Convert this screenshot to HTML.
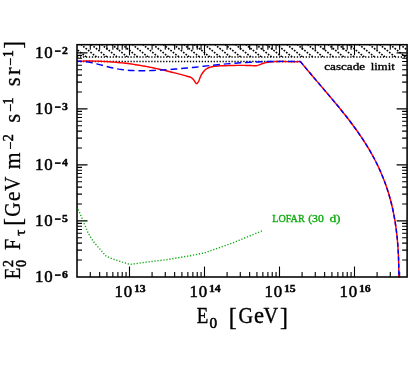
<!DOCTYPE html><html><head><meta charset="utf-8"><style>html,body{margin:0;padding:0;background:#fff;}body{width:416px;height:382px;overflow:hidden;position:relative;font-family:"Liberation Serif",serif;}</style></head><body><svg width="416" height="382" viewBox="0 0 416 382" style="will-change:transform;display:block;position:absolute;left:0;top:0">
<rect width="416" height="382" fill="#fff"/>
<defs><clipPath id="hc"><rect x="77.0" y="44.7" width="330.1" height="12.199999999999996"/></clipPath><clipPath id="pc"><rect x="77.0" y="44.7" width="330.1" height="233.3"/></clipPath></defs>
<path d="M-63.00 44.70L-47.75 56.90M-52.70 44.70L-37.45 56.90M-42.40 44.70L-27.15 56.90M-32.10 44.70L-16.85 56.90M-21.80 44.70L-6.55 56.90M-11.50 44.70L3.75 56.90M-1.20 44.70L14.05 56.90M9.10 44.70L24.35 56.90M19.40 44.70L34.65 56.90M29.70 44.70L44.95 56.90M40.00 44.70L55.25 56.90M50.30 44.70L65.55 56.90M60.60 44.70L75.85 56.90M70.90 44.70L86.15 56.90M81.20 44.70L96.45 56.90M91.50 44.70L106.75 56.90M101.80 44.70L117.05 56.90M112.10 44.70L127.35 56.90M122.40 44.70L137.65 56.90M132.70 44.70L147.95 56.90M143.00 44.70L158.25 56.90M153.30 44.70L168.55 56.90M163.60 44.70L178.85 56.90M173.90 44.70L189.15 56.90M184.20 44.70L199.45 56.90M194.50 44.70L209.75 56.90M204.80 44.70L220.05 56.90M215.10 44.70L230.35 56.90M225.40 44.70L240.65 56.90M235.70 44.70L250.95 56.90M246.00 44.70L261.25 56.90M256.30 44.70L271.55 56.90M266.60 44.70L281.85 56.90M276.90 44.70L292.15 56.90M287.20 44.70L302.45 56.90M297.50 44.70L312.75 56.90M307.80 44.70L323.05 56.90M318.10 44.70L333.35 56.90M328.40 44.70L343.65 56.90M338.70 44.70L353.95 56.90M349.00 44.70L364.25 56.90M359.30 44.70L374.55 56.90M369.60 44.70L384.85 56.90M379.90 44.70L395.15 56.90M390.20 44.70L405.45 56.90M400.50 44.70L415.75 56.90M410.80 44.70L426.05 56.90" clip-path="url(#hc)" stroke="#000" stroke-width="1.6" stroke-dasharray="1.7 1.4" stroke-dashoffset="0.6" fill="none"/>
<path d="M77.0 56.9H407.1" stroke="#000" stroke-width="1.5" stroke-dasharray="1.3 1.67" fill="none"/>
<path d="M77.0 61.4H300" stroke="#000" stroke-width="1.5" stroke-dasharray="1.3 1.67" fill="none"/>
<path d="M90.28 277.0v-5.0M90.28 44.7v5.0M99.65 277.0v-5.0M99.65 44.7v5.0M106.92 277.0v-5.0M106.92 44.7v5.0M112.86 277.0v-5.0M112.86 44.7v5.0M117.88 277.0v-5.0M117.88 44.7v5.0M122.23 277.0v-5.0M122.23 44.7v5.0M126.07 277.0v-5.0M126.07 44.7v5.0M129.50 277.0v-10.5M129.50 44.7v10.5M152.08 277.0v-5.0M152.08 44.7v5.0M165.28 277.0v-5.0M165.28 44.7v5.0M174.65 277.0v-5.0M174.65 44.7v5.0M181.92 277.0v-5.0M181.92 44.7v5.0M187.86 277.0v-5.0M187.86 44.7v5.0M192.88 277.0v-5.0M192.88 44.7v5.0M197.23 277.0v-5.0M197.23 44.7v5.0M201.07 277.0v-5.0M201.07 44.7v5.0M204.50 277.0v-10.5M204.50 44.7v10.5M227.08 277.0v-5.0M227.08 44.7v5.0M240.28 277.0v-5.0M240.28 44.7v5.0M249.65 277.0v-5.0M249.65 44.7v5.0M256.92 277.0v-5.0M256.92 44.7v5.0M262.86 277.0v-5.0M262.86 44.7v5.0M267.88 277.0v-5.0M267.88 44.7v5.0M272.23 277.0v-5.0M272.23 44.7v5.0M276.07 277.0v-5.0M276.07 44.7v5.0M279.50 277.0v-10.5M279.50 44.7v10.5M302.08 277.0v-5.0M302.08 44.7v5.0M315.28 277.0v-5.0M315.28 44.7v5.0M324.65 277.0v-5.0M324.65 44.7v5.0M331.92 277.0v-5.0M331.92 44.7v5.0M337.86 277.0v-5.0M337.86 44.7v5.0M342.88 277.0v-5.0M342.88 44.7v5.0M347.23 277.0v-5.0M347.23 44.7v5.0M351.07 277.0v-5.0M351.07 44.7v5.0M354.50 277.0v-10.5M354.50 44.7v10.5M377.08 277.0v-5.0M377.08 44.7v5.0M390.28 277.0v-5.0M390.28 44.7v5.0M399.65 277.0v-5.0M399.65 44.7v5.0M77.0 259.99h5.0M407.1 259.99h-5.0M77.0 250.13h5.0M407.1 250.13h-5.0M77.0 243.13h5.0M407.1 243.13h-5.0M77.0 237.71h5.0M407.1 237.71h-5.0M77.0 233.27h5.0M407.1 233.27h-5.0M77.0 229.52h5.0M407.1 229.52h-5.0M77.0 226.28h5.0M407.1 226.28h-5.0M77.0 223.41h5.0M407.1 223.41h-5.0M77.0 220.85h10.5M407.1 220.85h-10.5M77.0 203.99h5.0M407.1 203.99h-5.0M77.0 194.13h5.0M407.1 194.13h-5.0M77.0 187.13h5.0M407.1 187.13h-5.0M77.0 181.71h5.0M407.1 181.71h-5.0M77.0 177.27h5.0M407.1 177.27h-5.0M77.0 173.52h5.0M407.1 173.52h-5.0M77.0 170.28h5.0M407.1 170.28h-5.0M77.0 167.41h5.0M407.1 167.41h-5.0M77.0 164.85h10.5M407.1 164.85h-10.5M77.0 147.99h5.0M407.1 147.99h-5.0M77.0 138.13h5.0M407.1 138.13h-5.0M77.0 131.13h5.0M407.1 131.13h-5.0M77.0 125.71h5.0M407.1 125.71h-5.0M77.0 121.27h5.0M407.1 121.27h-5.0M77.0 117.52h5.0M407.1 117.52h-5.0M77.0 114.28h5.0M407.1 114.28h-5.0M77.0 111.41h5.0M407.1 111.41h-5.0M77.0 108.85h10.5M407.1 108.85h-10.5M77.0 91.99h5.0M407.1 91.99h-5.0M77.0 82.13h5.0M407.1 82.13h-5.0M77.0 75.13h5.0M407.1 75.13h-5.0M77.0 69.71h5.0M407.1 69.71h-5.0M77.0 65.27h5.0M407.1 65.27h-5.0M77.0 61.52h5.0M407.1 61.52h-5.0M77.0 58.28h5.0M407.1 58.28h-5.0M77.0 55.41h5.0M407.1 55.41h-5.0M77.0 52.85h10.5M407.1 52.85h-10.5" stroke="#000" stroke-width="1.1" fill="none"/>
<g clip-path="url(#pc)"><path d="M77.00 61.30L78.96 61.23L80.92 61.17L82.88 61.12L84.84 61.09L86.80 61.07L88.76 61.06L90.72 61.06L92.68 61.08L94.64 61.11L96.59 61.15L98.55 61.21L100.50 61.28L102.45 61.36L104.41 61.45L106.36 61.56L108.31 61.68L110.26 61.81L112.20 61.95L114.15 62.11L116.10 62.28L118.04 62.46L119.98 62.66L121.93 62.87L123.87 63.09L125.81 63.32L127.74 63.56L129.68 63.82L131.61 64.09L133.55 64.37L135.48 64.67L137.41 64.97L139.34 65.29L141.26 65.61L143.19 65.95L145.11 66.30L147.04 66.66L148.96 67.03L150.87 67.41L152.79 67.80L154.71 68.20L156.62 68.61L158.53 69.02L160.44 69.45L162.35 69.89L164.26 70.33L166.16 70.78L168.07 71.24L169.97 71.70L171.87 72.18L173.76 72.66L175.66 73.15L177.55 73.64L179.44 74.14L181.33 74.64L183.22 75.16L185.11 75.67L186.99 76.19L188.87 76.72L190.75 77.25L191.74 77.98L192.21 78.39L192.67 78.84L193.11 79.31L193.55 79.81L193.96 80.33L194.37 80.89L194.77 81.47L195.16 82.07L195.55 82.69L195.94 83.22L196.34 83.56L196.77 83.60L197.22 83.32L197.66 82.82L198.09 82.20L198.46 81.55L198.78 80.92L199.06 80.30L199.31 79.70L199.53 79.10L199.75 78.51L199.97 77.92L200.19 77.34L200.44 76.75L200.70 76.16L200.98 75.57L201.28 74.99L201.60 74.41L201.94 73.84L202.29 73.28L202.66 72.73L203.05 72.20L203.46 71.68L203.89 71.18L204.33 70.69L204.80 70.23L205.28 69.79L205.77 69.37L206.29 68.99L206.83 68.63L207.38 68.30L207.95 68.00L208.54 67.73L209.14 67.49L209.75 67.28L210.38 67.10L211.02 66.94L211.66 66.79L212.32 66.67L212.97 66.56L213.63 66.47L214.29 66.39L214.95 66.31L215.60 66.25L216.25 66.19L216.89 66.13L217.53 66.07L218.15 66.01L218.76 65.95L219.37 65.89L219.98 65.82L220.59 65.77L221.22 65.72L221.86 65.69L222.54 65.67L223.25 65.67L224.00 65.70L222.18 65.82L223.49 65.76L224.80 65.71L226.11 65.66L227.42 65.61L228.73 65.57L230.04 65.53L231.35 65.50L232.66 65.46L233.97 65.44L235.28 65.41L236.59 65.40L237.91 65.38L239.22 65.37L240.53 65.37L241.84 65.37L243.15 65.38L244.46 65.39L245.77 65.41L247.08 65.44L248.39 65.47L249.70 65.51L251.01 65.55L252.32 65.60L253.63 65.66L254.94 65.73L256.25 65.80L257.72 65.38L259.17 64.87L260.60 64.32L262.04 63.78L263.50 63.31L264.98 62.91L266.49 62.58L268.00 62.31L269.53 62.09L271.06 61.90L272.59 61.76L274.14 61.65L275.68 61.58L277.23 61.53L278.78 61.51L280.33 61.51L281.89 61.52L283.45 61.54L285.00 61.58L286.56 61.62L288.11 61.65L289.66 61.69L291.21 61.71L292.76 61.73L294.30 61.73L295.83 61.71L297.36 61.67L298.88 61.60L300.40 61.50L302.33 63.87L304.28 66.23L306.24 68.60L308.21 70.95L310.20 73.31L312.19 75.67L314.19 78.03L316.20 80.39L318.22 82.75L320.24 85.11L322.26 87.48L324.28 89.85L326.30 92.22L328.32 94.60L330.33 96.98L332.34 99.37L334.35 101.76L336.34 104.17L338.33 106.58L340.30 109.00L342.26 111.43L344.21 113.87L346.14 116.32L348.05 118.78L349.95 121.25L351.82 123.74L353.67 126.23L355.50 128.75L357.31 131.27L359.09 133.82L360.84 136.37L362.56 138.95L364.25 141.54L365.91 144.15L367.53 146.78L369.12 149.42L370.67 152.09L372.19 154.78L373.66 157.49L375.09 160.22L376.48 162.97L377.83 165.74L379.14 168.53L380.40 171.35L381.62 174.18L382.80 177.03L383.93 179.90L385.02 182.78L386.07 185.69L387.07 188.61L388.02 191.55L388.93 194.50L389.79 197.47L390.61 200.46L391.39 203.46L392.11 206.47L392.79 209.50L393.43 212.53L394.03 215.58L394.58 218.64L395.10 221.71L395.57 224.79L396.01 227.87L396.41 230.97L396.78 234.06L397.11 237.16L397.41 240.27L397.67 243.38L397.91 246.49L398.11 249.60L398.29 252.71L398.44 255.82L398.56 258.93L398.65 262.04L398.73 265.14L398.78 268.24L398.80 271.33L398.81 274.42L398.79 277.50" stroke="#f00" stroke-width="1.45" fill="none" stroke-linejoin="round"/>
<path d="M77.00 61.40L79.87 61.33L82.72 61.43L85.54 61.70L88.35 62.10L91.13 62.61L93.90 63.21L96.66 63.88L99.42 64.59L102.17 65.32L104.92 66.05L107.68 66.76L110.44 67.44L113.20 68.07L115.98 68.64L118.76 69.13L121.56 69.55L124.36 69.90L127.18 70.18L130.00 70.41L132.83 70.57L135.66 70.68L138.50 70.75L141.34 70.77L144.19 70.75L147.04 70.70L149.89 70.61L152.75 70.50L155.60 70.36L158.45 70.21L161.30 70.04L164.15 69.87L167.00 69.68L169.85 69.48L172.69 69.27L175.53 69.05L178.37 68.82L181.20 68.58L184.04 68.32L186.87 68.04L189.70 67.76L192.53 67.46L195.36 67.16L198.18 66.85L201.01 66.53L203.84 66.21L206.66 65.90L209.49 65.58L212.31 65.28L215.14 64.98L217.97 64.69L220.80 64.41L223.63 64.14L226.47 63.89L229.30 63.65L232.14 63.42L234.97 63.20L237.81 63.00L240.65 62.81L243.49 62.64L246.33 62.47L249.18 62.32L252.02 62.18L254.86 62.05L257.71 61.93L260.55 61.83L263.40 61.73L266.25 61.65L269.09 61.58L271.94 61.52L274.79 61.47L277.63 61.43L280.48 61.40L283.33 61.39L286.17 61.38L289.02 61.38L291.87 61.40L294.71 61.42L297.56 61.46L300.40 61.50" stroke="#00f" stroke-width="1.45" stroke-dasharray="6.8 3.9" stroke-dashoffset="1.8" fill="none" stroke-linejoin="round"/>
<path d="M300.40 61.50L302.33 63.87L304.28 66.23L306.24 68.60L308.21 70.95L310.20 73.31L312.19 75.67L314.19 78.03L316.20 80.39L318.22 82.75L320.24 85.11L322.26 87.48L324.28 89.85L326.30 92.22L328.32 94.60L330.33 96.98L332.34 99.37L334.35 101.76L336.34 104.17L338.33 106.58L340.30 109.00L342.26 111.43L344.21 113.87L346.14 116.32L348.05 118.78L349.95 121.25L351.82 123.74L353.67 126.23L355.50 128.75L357.31 131.27L359.09 133.82L360.84 136.37L362.56 138.95L364.25 141.54L365.91 144.15L367.53 146.78L369.12 149.42L370.67 152.09L372.19 154.78L373.66 157.49L375.09 160.22L376.48 162.97L377.83 165.74L379.14 168.53L380.40 171.35L381.62 174.18L382.80 177.03L383.93 179.90L385.02 182.78L386.07 185.69L387.07 188.61L388.02 191.55L388.93 194.50L389.79 197.47L390.61 200.46L391.39 203.46L392.11 206.47L392.79 209.50L393.43 212.53L394.03 215.58L394.58 218.64L395.10 221.71L395.57 224.79L396.01 227.87L396.41 230.97L396.78 234.06L397.11 237.16L397.41 240.27L397.67 243.38L397.91 246.49L398.11 249.60L398.29 252.71L398.44 255.82L398.56 258.93L398.65 262.04L398.73 265.14L398.78 268.24L398.80 271.33L398.81 274.42L398.79 277.50" stroke="#00f" stroke-width="1.45" stroke-dasharray="4.2 2.8" fill="none" stroke-linejoin="round"/>
<path d="M77.00 206.60L88.50 233.70L93.30 241.50L99.10 248.20L105.90 256.00L112.70 258.90L122.40 262.20L130.10 264.40L146.70 262.10L167.30 259.60L188.00 256.10L204.50 252.90L232.50 243.00L263.00 230.50" stroke="#1a1" stroke-width="1.4" stroke-dasharray="1.25 1.75" fill="none"/></g>
<rect x="77.0" y="44.7" width="330.1" height="232.3" fill="none" stroke="#000" stroke-width="1.55"/>
<g transform="translate(114.6,296.8) scale(1.05,1)"><text x="0" y="0" font-size="16" font-family="Liberation Serif, serif" fill="#000" stroke="#000" stroke-width="0.5" letter-spacing="0.8">10</text></g>
<g transform="translate(133.9,292.2) scale(1.12,1)"><text x="0" y="0" font-size="10.5" font-family="Liberation Serif, serif" fill="#000" stroke="#000" stroke-width="0.4" font-weight="bold">13</text></g>
<g transform="translate(189.6,296.8) scale(1.05,1)"><text x="0" y="0" font-size="16" font-family="Liberation Serif, serif" fill="#000" stroke="#000" stroke-width="0.5" letter-spacing="0.8">10</text></g>
<g transform="translate(208.9,292.2) scale(1.12,1)"><text x="0" y="0" font-size="10.5" font-family="Liberation Serif, serif" fill="#000" stroke="#000" stroke-width="0.4" font-weight="bold">14</text></g>
<g transform="translate(264.6,296.8) scale(1.05,1)"><text x="0" y="0" font-size="16" font-family="Liberation Serif, serif" fill="#000" stroke="#000" stroke-width="0.5" letter-spacing="0.8">10</text></g>
<g transform="translate(283.9,292.2) scale(1.12,1)"><text x="0" y="0" font-size="10.5" font-family="Liberation Serif, serif" fill="#000" stroke="#000" stroke-width="0.4" font-weight="bold">15</text></g>
<g transform="translate(339.6,296.8) scale(1.05,1)"><text x="0" y="0" font-size="16" font-family="Liberation Serif, serif" fill="#000" stroke="#000" stroke-width="0.5" letter-spacing="0.8">10</text></g>
<g transform="translate(358.9,292.2) scale(1.12,1)"><text x="0" y="0" font-size="10.5" font-family="Liberation Serif, serif" fill="#000" stroke="#000" stroke-width="0.4" font-weight="bold">16</text></g>
<g transform="translate(35.1,282.4) scale(1.05,1)"><text x="0" y="0" font-size="16" font-family="Liberation Serif, serif" fill="#000" stroke="#000" stroke-width="0.5" letter-spacing="0.8">10</text></g>
<rect x="54.9" y="274.3" width="5.8" height="1.6" fill="#000"/>
<g transform="translate(62.1,278.4) scale(1.12,1)"><text x="0" y="0" font-size="10.5" font-family="Liberation Serif, serif" fill="#000" stroke="#000" stroke-width="0.4" font-weight="bold">6</text></g>
<g transform="translate(35.1,226.3) scale(1.05,1)"><text x="0" y="0" font-size="16" font-family="Liberation Serif, serif" fill="#000" stroke="#000" stroke-width="0.5" letter-spacing="0.8">10</text></g>
<rect x="54.9" y="218.3" width="5.8" height="1.6" fill="#000"/>
<g transform="translate(62.1,222.3) scale(1.12,1)"><text x="0" y="0" font-size="10.5" font-family="Liberation Serif, serif" fill="#000" stroke="#000" stroke-width="0.4" font-weight="bold">5</text></g>
<g transform="translate(35.1,170.3) scale(1.05,1)"><text x="0" y="0" font-size="16" font-family="Liberation Serif, serif" fill="#000" stroke="#000" stroke-width="0.5" letter-spacing="0.8">10</text></g>
<rect x="54.9" y="162.3" width="5.8" height="1.6" fill="#000"/>
<g transform="translate(62.1,166.3) scale(1.12,1)"><text x="0" y="0" font-size="10.5" font-family="Liberation Serif, serif" fill="#000" stroke="#000" stroke-width="0.4" font-weight="bold">4</text></g>
<g transform="translate(35.1,114.3) scale(1.05,1)"><text x="0" y="0" font-size="16" font-family="Liberation Serif, serif" fill="#000" stroke="#000" stroke-width="0.5" letter-spacing="0.8">10</text></g>
<rect x="54.9" y="106.3" width="5.8" height="1.6" fill="#000"/>
<g transform="translate(62.1,110.3) scale(1.12,1)"><text x="0" y="0" font-size="10.5" font-family="Liberation Serif, serif" fill="#000" stroke="#000" stroke-width="0.4" font-weight="bold">3</text></g>
<g transform="translate(35.1,58.4) scale(1.05,1)"><text x="0" y="0" font-size="16" font-family="Liberation Serif, serif" fill="#000" stroke="#000" stroke-width="0.5" letter-spacing="0.8">10</text></g>
<rect x="54.9" y="50.3" width="5.8" height="1.6" fill="#000"/>
<g transform="translate(62.1,54.4) scale(1.12,1)"><text x="0" y="0" font-size="10.5" font-family="Liberation Serif, serif" fill="#000" stroke="#000" stroke-width="0.4" font-weight="bold">2</text></g>
<text x="324.2" y="69.9" font-size="9.3" font-family="Liberation Serif, serif" fill="#000" stroke="#000" stroke-width="0.3" textLength="41" lengthAdjust="spacingAndGlyphs">cascade</text>
<text x="370.8" y="69.9" font-size="9.3" font-family="Liberation Serif, serif" fill="#000" stroke="#000" stroke-width="0.3" textLength="24" lengthAdjust="spacingAndGlyphs">limit</text>
<text x="272.2" y="221.6" font-size="9.4" font-family="Liberation Serif, serif" fill="#1a1" stroke="#1a1" stroke-width="0.3" textLength="32.5" lengthAdjust="spacingAndGlyphs">LOFAR</text>
<text x="308.2" y="221.6" font-size="9.4" font-family="Liberation Serif, serif" fill="#1a1" stroke="#1a1" stroke-width="0.3" textLength="15.6" lengthAdjust="spacingAndGlyphs">(30</text>
<text x="329.4" y="221.6" font-size="9.4" font-family="Liberation Serif, serif" fill="#1a1" stroke="#1a1" stroke-width="0.3" textLength="11.2" lengthAdjust="spacingAndGlyphs">d)</text>
<g transform="translate(202.5,323.3) scale(0.84,1)"><text x="0" y="0" font-size="22.5" font-family="Liberation Serif, serif" fill="#000" stroke="#000" stroke-width="0.4" text-anchor="middle">E</text></g>
<g transform="translate(213.25,327.6) scale(1.05,1)"><text x="0" y="0" font-size="14.5" font-family="Liberation Serif, serif" fill="#000" stroke="#000" stroke-width="0.55" text-anchor="middle">0</text></g>
<g transform="translate(232.62,324.5) scale(0.95,1)"><text x="0" y="0" font-size="25" font-family="Liberation Serif, serif" fill="#000" stroke="#000" stroke-width="0.4" text-anchor="middle">[</text></g>
<g transform="translate(245.75,323.3) scale(0.9,1)"><text x="0" y="0" font-size="22.5" font-family="Liberation Serif, serif" fill="#000" stroke="#000" stroke-width="0.4" text-anchor="middle">G</text></g>
<g transform="translate(258.88,323.3) scale(1.0,1)"><text x="0" y="0" font-size="22.5" font-family="Liberation Serif, serif" fill="#000" stroke="#000" stroke-width="0.4" text-anchor="middle">e</text></g>
<g transform="translate(270.75,323.3) scale(0.9,1)"><text x="0" y="0" font-size="22.5" font-family="Liberation Serif, serif" fill="#000" stroke="#000" stroke-width="0.4" text-anchor="middle">V</text></g>
<g transform="translate(283.88,324.5) scale(0.95,1)"><text x="0" y="0" font-size="25" font-family="Liberation Serif, serif" fill="#000" stroke="#000" stroke-width="0.4" text-anchor="middle">]</text></g>
<g transform="translate(19.6,278.8) rotate(-90)">
<g transform="translate(5.25,0) scale(0.8,1)"><text x="0" y="0" font-size="23.5" font-family="Liberation Serif, serif" fill="#000" stroke="#000" stroke-width="0.28" text-anchor="middle">E</text></g>
<g transform="translate(15.25,-7.0)"><text x="0" y="0" font-size="14" font-family="Liberation Serif, serif" fill="#000" stroke="#000" stroke-width="0.5" text-anchor="middle">2</text></g>
<g transform="translate(15.4,5.9)"><text x="0" y="0" font-size="14" font-family="Liberation Serif, serif" fill="#000" stroke="#000" stroke-width="0.5" text-anchor="middle">0</text></g>
<g transform="translate(34.4,0) scale(0.85,1)"><text x="0" y="0" font-size="23.5" font-family="Liberation Serif, serif" fill="#000" stroke="#000" stroke-width="0.28" text-anchor="middle">F</text></g>
<g transform="translate(46.1,5.4)"><text x="0" y="0" font-size="15" font-family="Liberation Serif, serif" fill="#000" stroke="#000" stroke-width="0.5" text-anchor="middle">τ</text></g>
<g transform="translate(56.9,1.3) scale(0.9,1)"><text x="0" y="0" font-size="26" font-family="Liberation Serif, serif" fill="#000" stroke="#000" stroke-width="0.28" text-anchor="middle">[</text></g>
<g transform="translate(69.15,0) scale(0.85,1)"><text x="0" y="0" font-size="23.5" font-family="Liberation Serif, serif" fill="#000" stroke="#000" stroke-width="0.28" text-anchor="middle">G</text></g>
<g transform="translate(82.4,0) scale(0.95,1)"><text x="0" y="0" font-size="23.5" font-family="Liberation Serif, serif" fill="#000" stroke="#000" stroke-width="0.28" text-anchor="middle">e</text></g>
<g transform="translate(94.95,0) scale(0.85,1)"><text x="0" y="0" font-size="23.5" font-family="Liberation Serif, serif" fill="#000" stroke="#000" stroke-width="0.28" text-anchor="middle">V</text></g>
<g transform="translate(118.05,0) scale(0.92,1)"><text x="0" y="0" font-size="23.5" font-family="Liberation Serif, serif" fill="#000" stroke="#000" stroke-width="0.28" text-anchor="middle">m</text></g>
<g transform="translate(133.2,-7.0)"><text x="0" y="0" font-size="13" font-family="Liberation Serif, serif" fill="#000" stroke="#000" stroke-width="0.5" text-anchor="middle">–</text></g>
<g transform="translate(141.1,-7.0)"><text x="0" y="0" font-size="14" font-family="Liberation Serif, serif" fill="#000" stroke="#000" stroke-width="0.5" text-anchor="middle">2</text></g>
<g transform="translate(160.5,0)"><text x="0" y="0" font-size="23" font-family="Liberation Serif, serif" fill="#000" stroke="#000" stroke-width="0.28" text-anchor="middle">s</text></g>
<g transform="translate(170.95,-7.0)"><text x="0" y="0" font-size="13" font-family="Liberation Serif, serif" fill="#000" stroke="#000" stroke-width="0.5" text-anchor="middle">–</text></g>
<g transform="translate(177.9,-7.0)"><text x="0" y="0" font-size="14" font-family="Liberation Serif, serif" fill="#000" stroke="#000" stroke-width="0.5" text-anchor="middle">1</text></g>
<g transform="translate(196.9,0)"><text x="0" y="0" font-size="23" font-family="Liberation Serif, serif" fill="#000" stroke="#000" stroke-width="0.28" text-anchor="middle">s</text></g>
<g transform="translate(207.75,0)"><text x="0" y="0" font-size="23" font-family="Liberation Serif, serif" fill="#000" stroke="#000" stroke-width="0.28" text-anchor="middle">r</text></g>
<g transform="translate(217.15,-7.0)"><text x="0" y="0" font-size="13" font-family="Liberation Serif, serif" fill="#000" stroke="#000" stroke-width="0.5" text-anchor="middle">–</text></g>
<g transform="translate(225.0,-7.0)"><text x="0" y="0" font-size="14" font-family="Liberation Serif, serif" fill="#000" stroke="#000" stroke-width="0.5" text-anchor="middle">1</text></g>
<g transform="translate(233.9,1.3) scale(0.9,1)"><text x="0" y="0" font-size="26" font-family="Liberation Serif, serif" fill="#000" stroke="#000" stroke-width="0.28" text-anchor="middle">]</text></g>
</g>
</svg></body></html>
